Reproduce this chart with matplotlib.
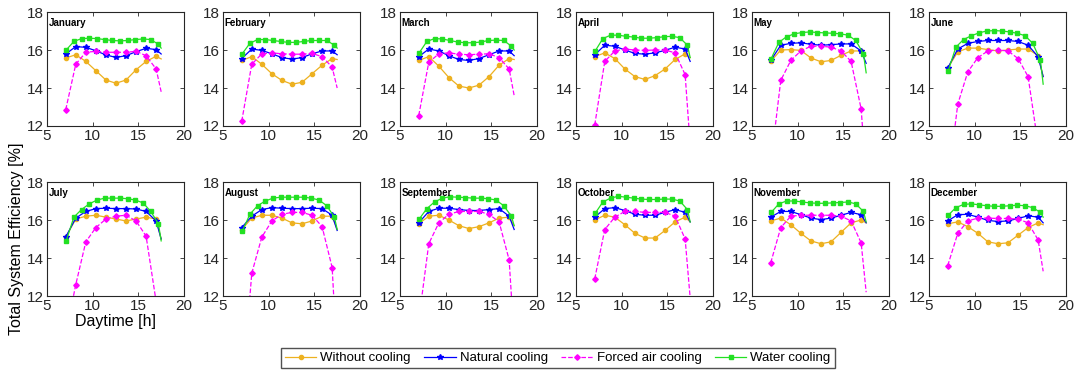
import matplotlib

matplotlib.use("Agg")
import matplotlib.pyplot as plt  # noqa: E402

plt.rcParams["font.family"] = ["Liberation Sans", "DejaVu Sans"]

MONTHS = ["January", "February", "March", "April", "May", "June",
          "July", "August", "September", "October", "November", "December"]

# hours of the marked points; last entry is the end of the curve (no marker)
HOURS = [7.05, 8.15, 9.25, 10.35, 11.45, 12.55, 13.65, 14.75, 15.85, 16.95, 17.5]
HOURS_WATER = [7.10, 7.94, 8.78, 9.63, 10.47, 11.31, 12.15, 12.99, 13.83,
               14.68, 15.52, 16.36, 17.20, 17.5]

WITHOUT = [
    [15.58, 15.75, 15.40, 14.91, 14.42, 14.25, 14.42, 14.96, 15.40, 15.67, 15.53],
    [15.45, 15.65, 15.25, 14.75, 14.40, 14.20, 14.30, 14.75, 15.20, 15.55, 15.50],
    [15.45, 15.65, 15.15, 14.55, 14.10, 14.00, 14.15, 14.60, 15.20, 15.55, 15.50],
    [15.65, 15.85, 15.55, 15.00, 14.60, 14.45, 14.65, 15.00, 15.50, 15.80, 15.60],
    [15.40, 16.00, 16.02, 15.98, 15.58, 15.38, 15.45, 15.72, 15.95, 15.95, 15.70],
    [15.05, 15.90, 16.10, 16.10, 16.02, 15.95, 16.00, 16.05, 16.05, 15.70, 14.60],
    [15.10, 16.05, 16.20, 16.25, 16.15, 16.05, 15.95, 16.05, 16.15, 16.05, 15.00],
    [15.50, 16.10, 16.25, 16.25, 16.10, 15.85, 15.80, 15.95, 16.20, 16.20, 15.50],
    [15.80, 16.20, 16.25, 16.00, 15.70, 15.55, 15.65, 15.85, 16.10, 16.15, 15.70],
    [16.00, 16.25, 16.15, 15.75, 15.30, 15.05, 15.05, 15.45, 15.90, 16.15, 15.90],
    [15.95, 16.10, 15.75, 15.30, 14.90, 14.75, 14.85, 15.35, 15.85, 16.00, 15.85],
    [15.80, 15.90, 15.65, 15.30, 14.85, 14.75, 14.80, 15.20, 15.60, 15.85, 15.75],
]
NATURAL = [
    [15.79, 16.18, 16.14, 15.96, 15.74, 15.61, 15.70, 15.91, 16.09, 16.02, 15.79],
    [15.55, 16.05, 15.98, 15.80, 15.60, 15.52, 15.60, 15.80, 15.95, 15.95, 15.75],
    [15.65, 16.05, 15.95, 15.70, 15.50, 15.45, 15.55, 15.75, 15.95, 15.95, 15.70],
    [15.75, 16.25, 16.20, 16.00, 15.82, 15.78, 15.85, 15.98, 16.15, 16.05, 15.40],
    [15.45, 16.25, 16.35, 16.38, 16.30, 16.25, 16.28, 16.32, 16.32, 15.95, 15.30],
    [15.05, 16.05, 16.35, 16.45, 16.50, 16.50, 16.50, 16.45, 16.25, 15.65, 14.60],
    [15.10, 16.10, 16.45, 16.60, 16.62, 16.60, 16.60, 16.58, 16.45, 15.95, 15.00],
    [15.60, 16.20, 16.55, 16.65, 16.62, 16.60, 16.60, 16.62, 16.60, 16.25, 15.45],
    [15.85, 16.45, 16.62, 16.62, 16.55, 16.50, 16.50, 16.55, 16.60, 16.20, 15.50],
    [16.15, 16.60, 16.65, 16.50, 16.30, 16.25, 16.25, 16.40, 16.55, 16.40, 15.90],
    [16.15, 16.45, 16.45, 16.28, 16.10, 16.02, 16.10, 16.25, 16.40, 16.28, 15.85],
    [15.95, 16.28, 16.30, 16.15, 15.98, 15.92, 15.95, 16.08, 16.22, 16.15, 15.85],
]
FORCED = [
    [12.86, 15.25, 15.88, 15.93, 15.88, 15.88, 15.88, 15.93, 15.70, 15.00, 13.80],
    [12.25, 15.25, 15.80, 15.85, 15.80, 15.78, 15.78, 15.82, 15.65, 15.10, 14.00],
    [12.55, 15.35, 15.80, 15.85, 15.78, 15.75, 15.78, 15.80, 15.60, 15.00, 13.60],
    [12.05, 15.40, 15.95, 16.05, 16.00, 15.98, 16.00, 16.00, 15.85, 14.70, 11.00],
    [10.00, 14.40, 15.45, 15.95, 16.20, 16.20, 16.15, 15.95, 15.40, 12.90, 9.30],
    [8.90, 13.15, 14.85, 15.60, 15.95, 16.00, 15.95, 15.55, 14.60, 11.00, 8.00],
    [9.96, 12.60, 14.85, 15.60, 16.05, 16.20, 16.25, 15.95, 15.15, 11.70, 8.00],
    [6.60, 13.20, 15.10, 15.95, 16.30, 16.40, 16.40, 16.25, 15.65, 13.50, 8.65],
    [10.70, 14.75, 15.85, 16.30, 16.45, 16.45, 16.45, 16.30, 15.90, 13.90, 9.70],
    [12.90, 15.50, 16.15, 16.45, 16.45, 16.40, 16.40, 16.40, 16.20, 15.00, 11.90],
    [13.75, 15.60, 16.20, 16.25, 16.25, 16.25, 16.25, 16.20, 15.95, 14.80, 12.20],
    [13.60, 15.30, 15.95, 16.10, 16.10, 16.08, 16.08, 16.05, 15.85, 14.95, 13.30],
]
WATER = [
    [16.00, 16.45, 16.60, 16.62, 16.60, 16.55, 16.50, 16.48, 16.50, 16.55, 16.58, 16.55, 16.30, 16.10],
    [15.80, 16.35, 16.55, 16.55, 16.50, 16.45, 16.40, 16.40, 16.45, 16.50, 16.50, 16.50, 16.25, 16.10],
    [15.85, 16.45, 16.60, 16.58, 16.50, 16.42, 16.38, 16.38, 16.42, 16.50, 16.52, 16.50, 16.20, 16.00],
    [15.95, 16.60, 16.78, 16.78, 16.72, 16.68, 16.62, 16.62, 16.65, 16.70, 16.72, 16.65, 16.25, 15.60],
    [15.55, 16.40, 16.70, 16.85, 16.92, 16.95, 16.92, 16.90, 16.88, 16.85, 16.78, 16.50, 15.80, 14.80],
    [14.90, 16.15, 16.55, 16.75, 16.90, 17.00, 17.02, 17.00, 16.95, 16.88, 16.75, 16.35, 15.45, 14.20],
    [14.90, 16.15, 16.55, 16.85, 17.05, 17.15, 17.15, 17.15, 17.12, 17.05, 16.90, 16.45, 15.80, 14.90],
    [15.40, 16.30, 16.75, 17.00, 17.15, 17.20, 17.20, 17.20, 17.20, 17.15, 17.05, 16.75, 16.15, 15.50],
    [16.05, 16.60, 16.95, 17.15, 17.22, 17.20, 17.18, 17.15, 17.15, 17.12, 17.05, 16.75, 16.20, 15.70],
    [16.35, 16.95, 17.15, 17.25, 17.20, 17.15, 17.10, 17.08, 17.08, 17.10, 17.10, 17.00, 16.55, 15.90],
    [16.40, 16.85, 17.00, 17.00, 16.95, 16.90, 16.88, 16.88, 16.90, 16.92, 16.95, 16.85, 16.45, 15.90],
    [16.25, 16.65, 16.82, 16.85, 16.80, 16.75, 16.72, 16.72, 16.75, 16.78, 16.75, 16.65, 16.40, 16.15],
]

LABELS = ["Without cooling", "Natural cooling", "Forced air cooling", "Water cooling"]
STYLE = [
    dict(color="#EDB120", marker="o", ls="-", ms=3.0),
    dict(color="#0000FF", marker="*", ls="-", ms=4.2),
    dict(color="#FF00FF", marker="D", ls="--", ms=2.8),
    dict(color="#22E022", marker="s", ls="-", ms=3.0),
]

W, H = 1083, 378
LEFTS = [47, 223, 400, 576, 752, 929]
TOPS = [12, 182]
AW, AH = 137, 114

fig = plt.figure(figsize=(W / 100, H / 100), dpi=100)
handles = []
for i, month in enumerate(MONTHS):
    r, c = divmod(i, 6)
    ax = fig.add_axes([LEFTS[c] / W, 1 - (TOPS[r] + AH) / H, AW / W, AH / H])
    series = [(HOURS, WITHOUT[i]), (HOURS, NATURAL[i]),
              (HOURS, FORCED[i]), (HOURS_WATER, WATER[i])]
    for k, (xs, ys) in enumerate(series):
        st = STYLE[k]
        h, = ax.plot(xs, ys, color=st["color"], ls=st["ls"], lw=0.9,
                     marker=st["marker"], ms=st["ms"],
                     markevery=list(range(len(xs) - 1)), label=LABELS[k])
        if i == 0:
            handles.append(h)
    ax.set_xlim(5, 20)
    ax.set_ylim(12, 18)
    ax.set_xticks([5, 10, 15, 20])
    ax.set_yticks([12, 14, 16, 18])
    ax.tick_params(direction="in", top=True, right=True, labelsize=11,
                   length=3, width=0.6, colors="#262626", pad=2)
    for sp in ax.spines.values():
        sp.set_color("#262626")
        sp.set_linewidth(0.8)
    ax.text(0.01, 0.9, month, transform=ax.transAxes, fontsize=7,
            fontweight="bold", ha="left", va="center")
    if i == 6:
        ax.set_xlabel("Daytime [h]", fontsize=11.5, labelpad=1)
        ax.set_ylabel("Total System Efficiency [%]", fontsize=11.5, labelpad=2)

fig.legend(handles=handles, loc="center", bbox_to_anchor=(0.515, 0.052),
           ncol=4, fontsize=9.5, frameon=True, fancybox=False,
           edgecolor="#262626", handlelength=2.4, columnspacing=1.0,
           handletextpad=0.3, borderpad=0.3)
fig.savefig("out.png", dpi=100)
